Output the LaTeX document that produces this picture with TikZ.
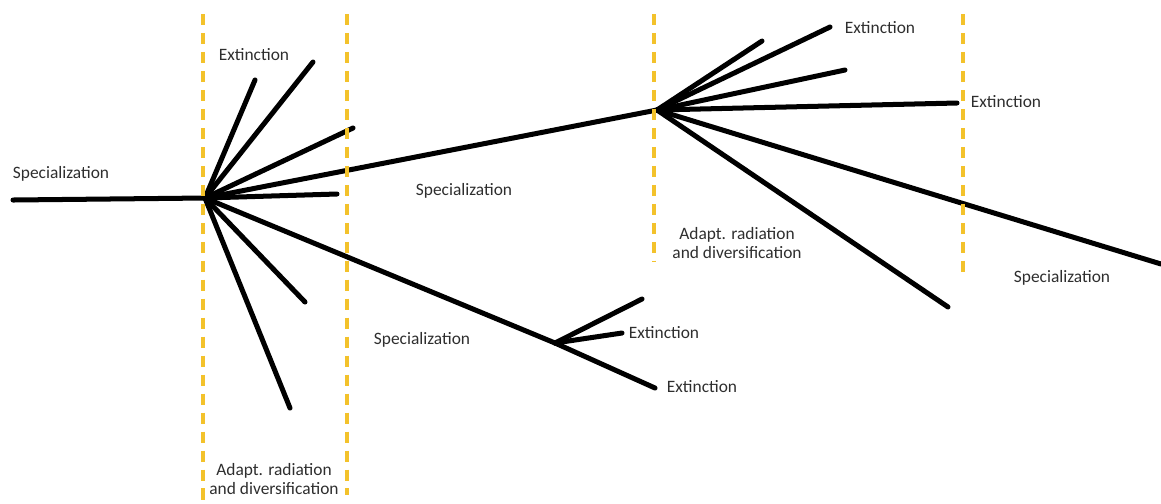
\documentclass[tikz,border=0pt]{standalone}
\usepackage{fontspec}
\setmainfont{Carlito}
\usepackage{xcolor}
\usepackage{tikz}
\usetikzlibrary{calc,positioning}
\definecolor{epochyellow}{HTML}{F3C22B}
\definecolor{labelgray}{HTML}{2E2E2E}
\tikzset{
  lineage/.style={black, line width=2.85pt, line cap=round},
  epochline/.style={epochyellow, line width=2.6pt, dash pattern=on 6.3pt off 4.5pt},
  tag/.style={labelgray, font=\fontsize{9.9}{10.3}\selectfont, inner sep=0pt, align=center}
}

\begin{document}
\begin{tikzpicture}
  \useasboundingbox (0,0) rectangle (23.22,-10.06);
  % branching points
  \coordinate (root) at (0.26,-4.00);
  \coordinate (hubA) at (4.10,-3.96);
  \coordinate (hubB) at (13.14,-2.20);
  \coordinate (fork) at (11.10,-6.86);
  % tips of the first radiation
  \coordinate (a1) at (5.10,-1.60);
  \coordinate (a2) at (6.26,-1.24);
  \coordinate (a3) at (7.06,-2.56);
  \coordinate (a4) at (6.74,-3.88);
  \coordinate (a5) at (6.10,-6.04);
  \coordinate (a6) at (5.80,-8.16);
  % tips of the second radiation
  \coordinate (b1) at (15.24,-0.82);
  \coordinate (b2) at (16.60,-0.54);
  \coordinate (b3) at (16.90,-1.40);
  \coordinate (b4) at (19.14,-2.06);
  \coordinate (b5) at (23.22,-5.28);
  \coordinate (b6) at (18.96,-6.14);
  % tips of the small fork
  \coordinate (c1) at (12.84,-5.98);
  \coordinate (c2) at (12.44,-6.66);
  \coordinate (c3) at (13.10,-7.76);

  \draw[lineage] (root) -- (hubA);
  \foreach \i in {1,...,6}{\draw[lineage] (hubA) -- (a\i);}
  \draw[lineage] (hubA) -- (hubB);
  \draw[lineage] (hubA) -- (fork);
  \foreach \i in {1,...,6}{\draw[lineage] (hubB) -- (b\i);}
  \foreach \i in {1,2,3}{\draw[lineage] (fork) -- (c\i);}

  \foreach \x/\ybot in {4.06/-10.06, 6.94/-9.90, 13.08/-5.24, 19.26/-5.50}{
    \draw[epochline] (\x,-0.28) -- (\x,\ybot);
  }

  \node[tag] (specroot) at (1.22,-3.48) {Specialization};
  \node[tag] (extA) at (5.08,-1.10) {Extinction};
  \node[tag] (specAB) at (9.28,-3.82) {Specialization};
  \node[tag] (radA) at (5.48,-9.58) {Adapt. radiation\\and diversification};
  \node[tag] (specfork) at (8.44,-6.80) {Specialization};
  \node[tag] (extc2) at (13.28,-6.66) {Extinction};
  \node[tag] (extc3) at (14.04,-7.74) {Extinction};
  \node[tag] (radB) at (14.74,-4.86) {Adapt. radiation\\and diversification};
  \node[tag] (extb2) at (17.60,-0.56) {Extinction};
  \node[tag] (extb4) at (20.12,-2.04) {Extinction};
  \node[tag] (specB) at (21.24,-5.56) {Specialization};
\end{tikzpicture}
\end{document}
